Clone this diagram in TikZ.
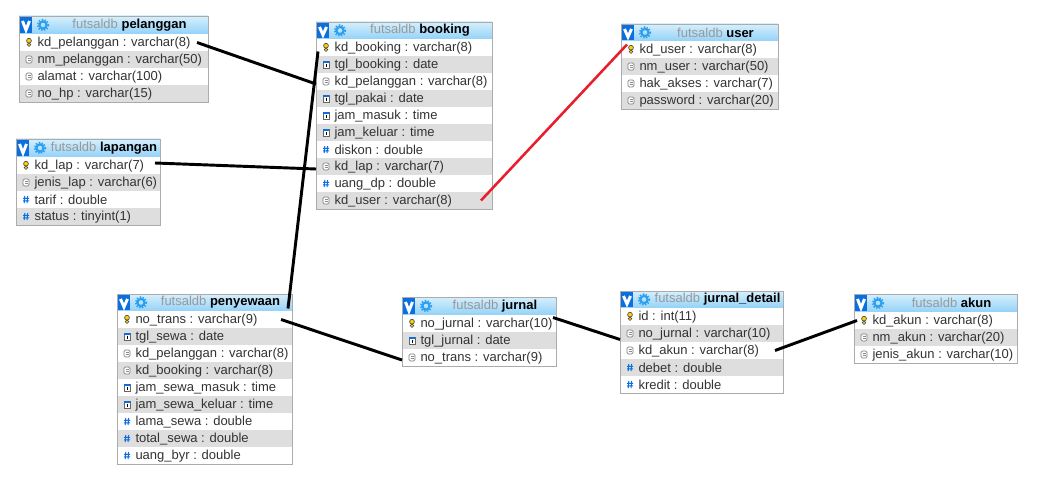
\documentclass[tikz,border=0pt]{standalone}
\usepackage{fontspec}
\setmainfont{Liberation Sans}
\usetikzlibrary{calc}

\definecolor{rowgray}{HTML}{DEDEDE}
\definecolor{framegray}{HTML}{ABABAB}
\definecolor{barblue}{HTML}{0B6FE0}
\definecolor{gearblue}{HTML}{2B9FF0}
\definecolor{bartop}{HTML}{D6EFFC}
\definecolor{barbottom}{HTML}{93D2F8}
\definecolor{linkred}{HTML}{E81E2C}

\tikzset{
    rowbox/.style={rectangle,anchor=west,inner sep=0pt,outer sep=0pt,minimum height=12.75pt},
    rowtext/.style={anchor=west,inner sep=0pt,outer sep=0pt,text=black!80,font=\fontsize{9.75}{11}\selectfont},
    titlebar/.style={rectangle,inner sep=0pt,outer sep=0pt,top color=bartop,bottom color=barbottom,font=\fontsize{9.75}{11}\selectfont},
    fklink/.style={line width=2.2pt,black},
    userlink/.style={line width=1.9pt,linkred}
}

% small field icons, drawn round (0,0) of the row
\newcommand{\iconkey}{
    \draw[black!70,fill=yellow!70!orange,line width=.5pt] (0,-1.8) circle (2.4);
    \draw[black!70,fill=yellow!70!orange,line width=.5pt] (0,2.2) circle (1.8);
}
\newcommand{\icontxt}{
    \draw[black!50,fill=white,line width=.5pt,rounded corners=1pt] (-3,-3.5) rectangle (3,3.5);
    \draw[black!45,line width=.4pt] (-1.5,-1) -- (1.5,-1) (-1.5,1) -- (1.5,1);
}
\newcommand{\icondate}{
    \draw[black!60,fill=white,line width=.5pt] (-3,-3.5) rectangle (3,3.5);
    \fill[barblue] (-3,-3.5) rectangle (3,-1.6);
    \draw[black,line width=.5pt] (0,-.8) -- (0,2.4);
}
\newcommand{\iconnum}{
    \draw[barblue,line width=.75pt] (-1.2,-3.5) -- (-1.8,3.5) (1.6,-3.5) -- (1,3.5) (-3,-1.2) -- (3,-1.2) (-3,1.3) -- (3,1.3);
}

% name, left, top, first row top, width, title, rows (icon/text)
\newcommand{\dbtable}[7]{
    \pgfmathsetmacro{\titleh}{#4-#3}
    \node[titlebar,minimum width=.75pt*#5,minimum height=.75pt*\titleh] (#1-title) at ({#2+#5/2},{(#3+#4)/2}) {\hspace*{24pt}\textcolor{black!40}{futsaldb} \textbf{#6}};
    \fill[barblue] (#2+1,#3+1) rectangle (#2+13,#4-1);
    \draw[white,line width=2.2pt] (#2+3.5,#3+5) -- (#2+7,#4-4) -- (#2+10.5,#3+5);
    \draw[gearblue,line width=1.6pt] (#2+24,{(#3+#4)/2}) circle (3.6);
    \draw[gearblue,line width=1.3pt,dash pattern=on 1pt off 1.2pt] (#2+24,{(#3+#4)/2}) circle (5.4);
    \foreach \kind/\field [count=\i] in {#7} {
        \pgfmathsetmacro{\rowy}{#4+17*\i-8.5}
        \ifodd\i\relax\def\rowfill{white}\else\def\rowfill{rowgray}\fi
        \node[rowbox,fill=\rowfill,minimum width=.75pt*#5] (#1-\i) at (#2,\rowy) {};
        \begin{scope}[shift={(#2+10,\rowy)}]
            \csname icon\kind\endcsname
        \end{scope}
        \node[rowtext] (#1-text-\i) at (#2+18.5,\rowy+.7) {\field};
        \xdef\lastrow{\i}
    }
    \draw[framegray,line width=.6pt] (#1-title.north west) rectangle (#1-\lastrow.south east);
}

\begin{document}
\begin{tikzpicture}[x=.75pt,y=-.75pt]
    \useasboundingbox (0,0) rectangle (1039,481);

    \dbtable{pelanggan}{19}{16}{34}{189}{pelanggan}{key/kd\_pelanggan : varchar(8),txt/nm\_pelanggan : varchar(50),txt/alamat : varchar(100),txt/no\_hp : varchar(15)}
    \dbtable{lapangan}{16}{139}{157}{144}{lapangan}{key/kd\_lap : varchar(7),txt/jenis\_lap : varchar(6),num/tarif : double,num/status : tinyint(1)}
    \dbtable{booking}{316}{22}{39}{176}{booking}{key/kd\_booking : varchar(8),date/tgl\_booking : date,txt/kd\_pelanggan : varchar(8),date/tgl\_pakai : date,date/jam\_masuk : time,date/jam\_keluar : time,num/diskon : double,txt/kd\_lap : varchar(7),num/uang\_dp : double,txt/kd\_user : varchar(8)}
    \dbtable{user}{621}{24}{41}{157}{user}{key/kd\_user : varchar(8),txt/nm\_user : varchar(50),txt/hak\_akses : varchar(7),txt/password : varchar(20)}
    \dbtable{penyewaan}{117}{294}{311}{175}{penyewaan}{key/no\_trans : varchar(9),date/tgl\_sewa : date,txt/kd\_pelanggan : varchar(8),txt/kd\_booking : varchar(8),date/jam\_sewa\_masuk : time,date/jam\_sewa\_keluar : time,num/lama\_sewa : double,num/total\_sewa : double,num/uang\_byr : double}
    \dbtable{jurnal}{402}{297}{315}{154}{jurnal}{key/no\_jurnal : varchar(10),date/tgl\_jurnal : date,txt/no\_trans : varchar(9)}
    \dbtable{detail}{620}{291}{308}{163}{jurnal\_detail}{key/id : int(11),txt/no\_jurnal : varchar(10),txt/kd\_akun : varchar(8),num/debet : double,num/kredit : double}
    \dbtable{akun}{854}{294}{312}{163}{akun}{key/kd\_akun : varchar(8),txt/nm\_akun : varchar(20),txt/jenis\_akun : varchar(10)}

    \draw[fklink] ([shift={(-11,0)}]pelanggan-1.east) -- ([shift={(0,2.5)}]booking-3.west); % pelanggan
    \draw[fklink] ([shift={(-5,-2.5)}]lapangan-1.east) -- ([shift={(0,2.5)}]booking-8.west); % lapangan
    \draw[fklink] ([shift={(2,4)}]booking-1.west) -- ([shift={(-4,6)}]penyewaan-title.east); % booking
    \draw[userlink] ([shift={(-11,0)}]booking-10.east) -- ([shift={(6,-5)}]user-1.west);     % user
    \draw[fklink] ([shift={(-11,0)}]penyewaan-1.east) -- ([shift={(0,2.5)}]jurnal-3.west);   % penyewaan
    \draw[fklink] ([shift={(-3,-6)}]jurnal-1.east) -- ([shift={(0,6)}]detail-2.west);        % jurnal
    \draw[fklink] ([shift={(-8,0)}]detail-3.east) -- ([shift={(3,0)}]akun-1.west);           % akun
\end{tikzpicture}
\end{document}
